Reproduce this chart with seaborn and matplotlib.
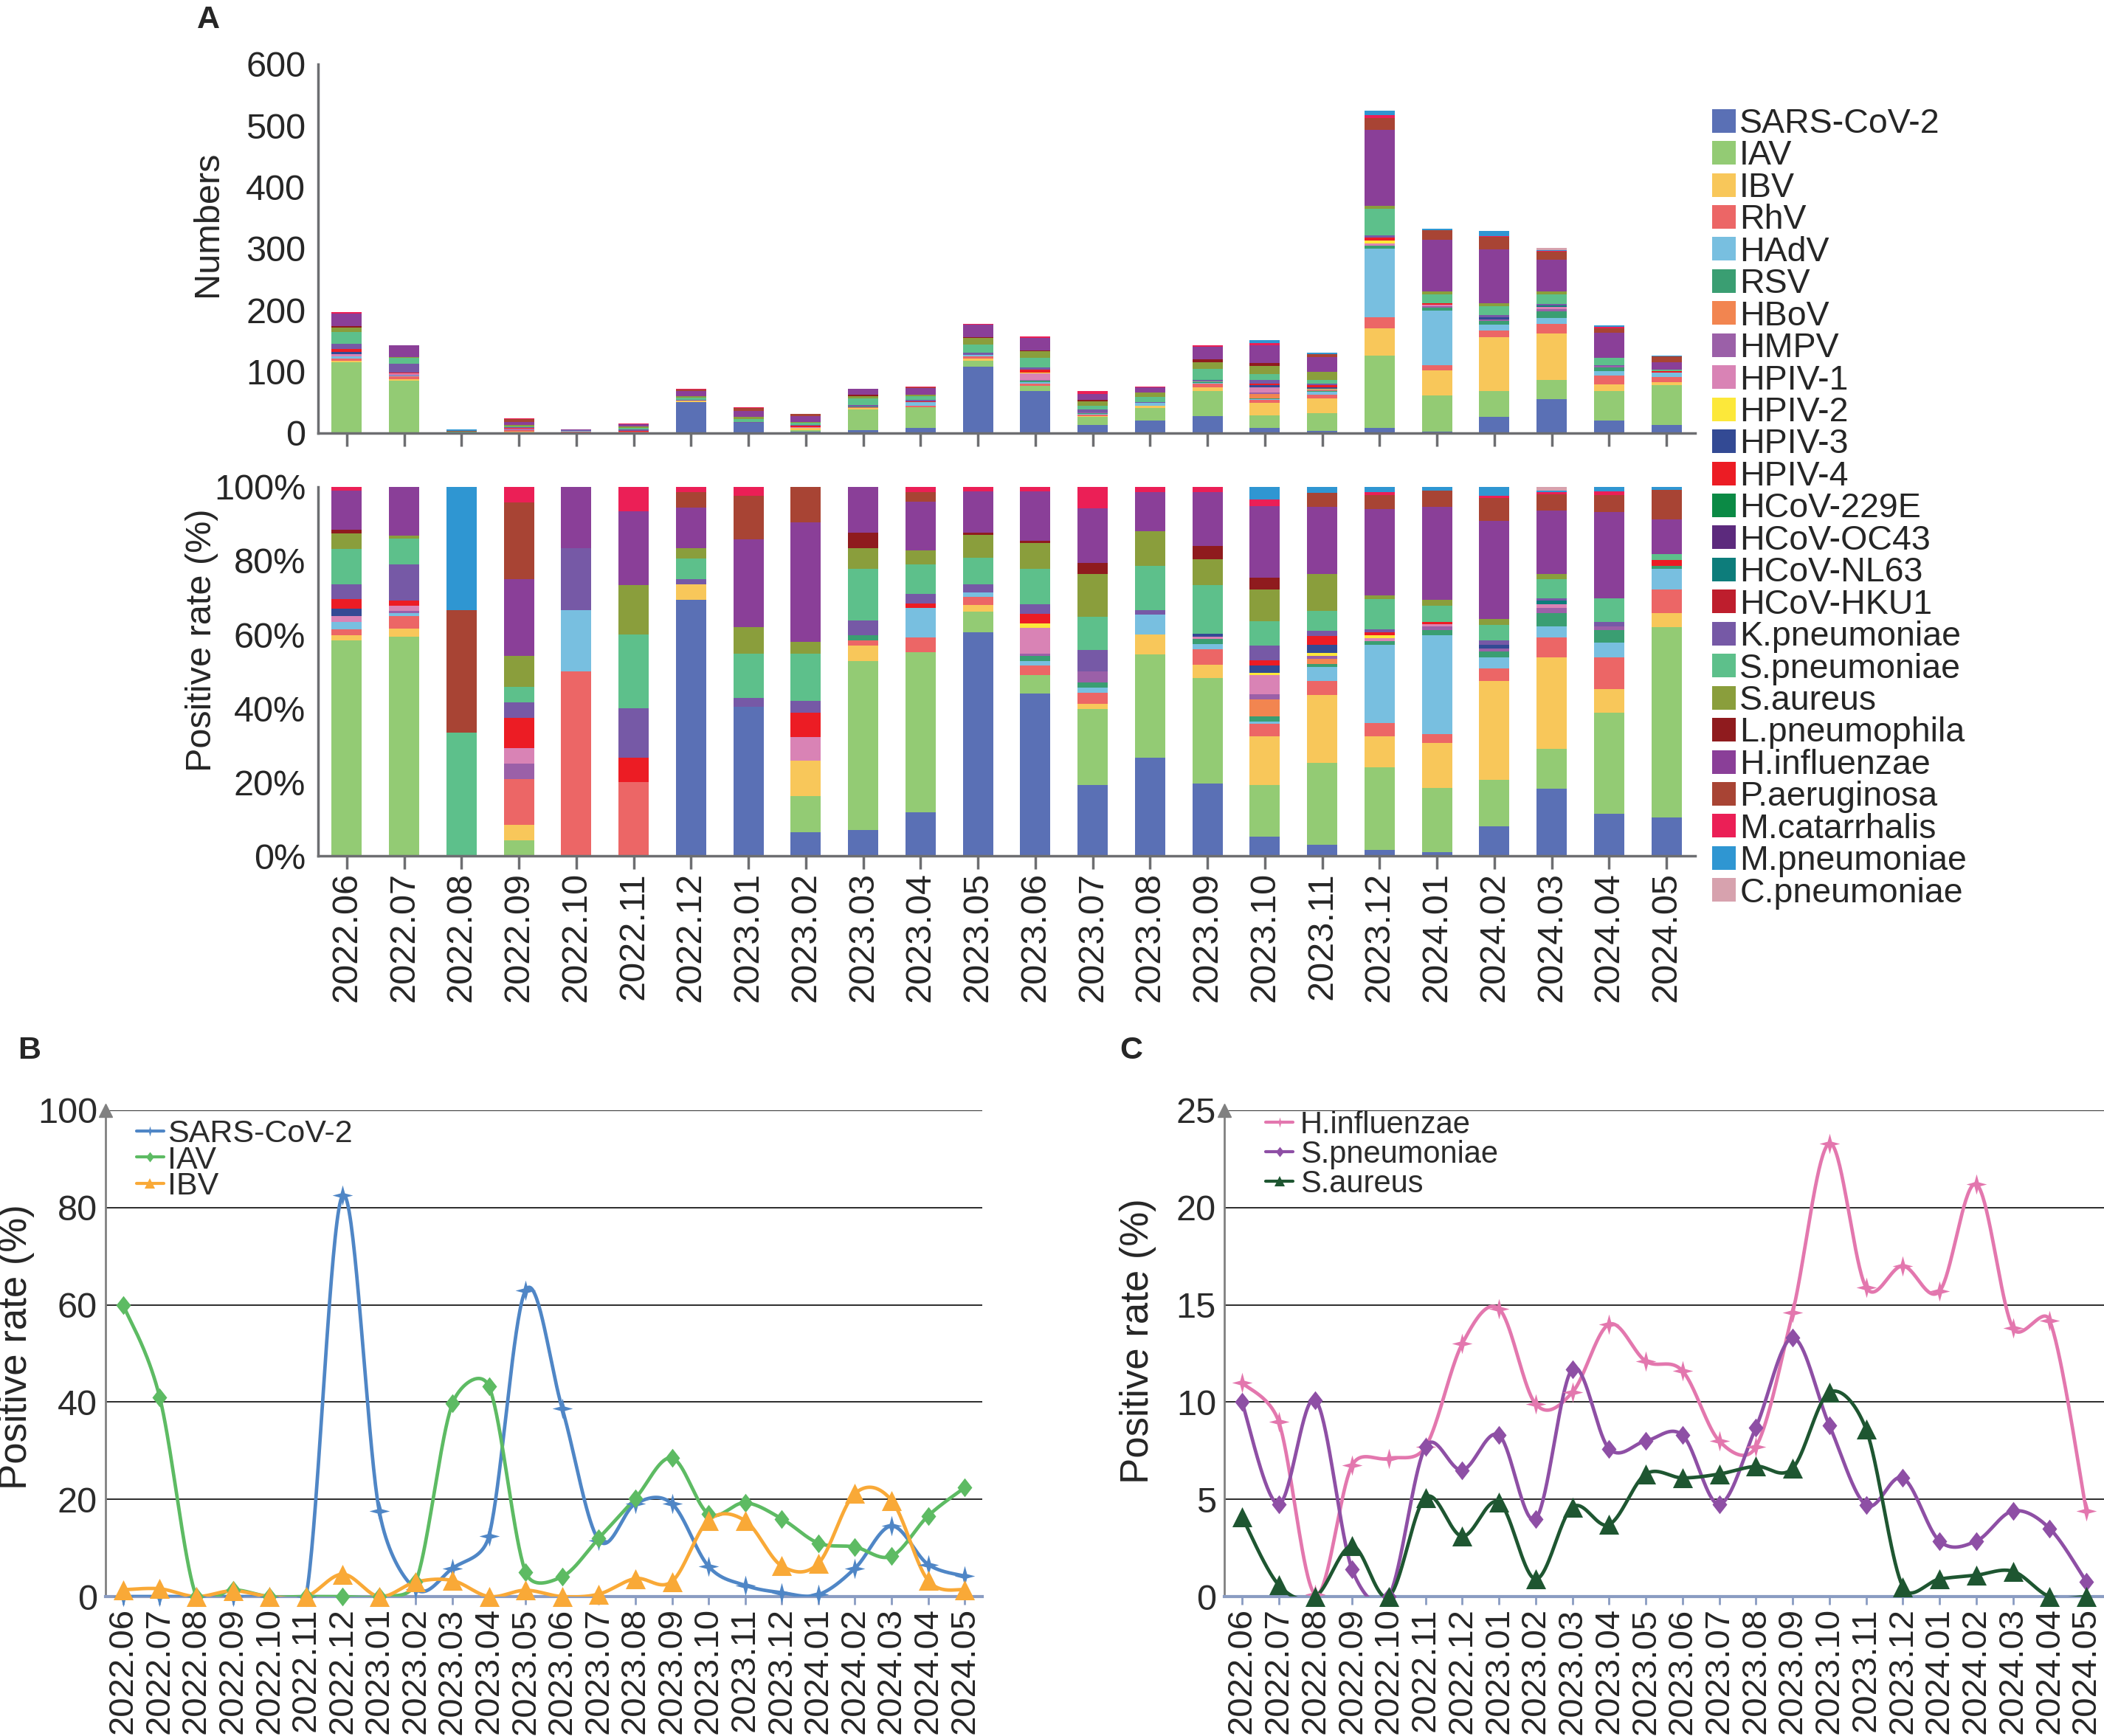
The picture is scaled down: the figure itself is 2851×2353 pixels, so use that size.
import numpy as np
import pandas as pd
import matplotlib
matplotlib.use('Agg')
import matplotlib.pyplot as plt
import seaborn as sns
from matplotlib.patches import Patch
from matplotlib.lines import Line2D
from matplotlib.path import Path

# ---------------- data ----------------
months = ['2022.06', '2022.07', '2022.08', '2022.09', '2022.10', '2022.11', '2022.12',
          '2023.01', '2023.02', '2023.03', '2023.04', '2023.05', '2023.06', '2023.07',
          '2023.08', '2023.09', '2023.10', '2023.11', '2023.12', '2024.01', '2024.02',
          '2024.03', '2024.04', '2024.05']

categories = ['SARS-CoV-2', 'IAV', 'IBV', 'RhV', 'HAdV', 'RSV', 'HBoV', 'HMPV', 'HPIV-1',
              'HPIV-2', 'HPIV-3', 'HPIV-4', 'HCoV-229E', 'HCoV-OC43', 'HCoV-NL63',
              'HCoV-HKU1', 'K.pneumoniae', 'S.pneumoniae', 'S.aureus', 'L.pneumophila',
              'H.influenzae', 'P.aeruginosa', 'M.catarrhalis', 'M.pneumoniae', 'C.pneumoniae']

colors = ['#5A70B5', '#93CB74', '#F8C75A', '#EC6666', '#78BFE0', '#3A9E72', '#F28550',
          '#9B60A8', '#D983B5', '#FCE83A', '#334A94', '#EC1C24', '#0B8A45', '#5C2A7D',
          '#0D7D7B', '#BE1E2D', '#7659A6', '#5DC08B', '#8A9E3C', '#8F1B1E', '#8A3F98',
          '#A84434', '#EB1F56', '#2F96D2', '#D7A2AE']

# monthly positive counts per pathogen (panel A)
sars_cov_2 = [0, 0, 0, 0, 0, 0, 50, 17, 2, 5, 9, 108, 69, 13, 20, 28, 8, 4, 8, 3, 26, 55, 20, 13]
iav = [115, 85, 0, 1, 0, 0, 0, 0, 3, 33, 33, 10, 8, 14, 21, 41, 21, 29, 118, 58, 42, 32, 48, 65]
ibv = [3, 3, 0, 1, 0, 0, 3, 0, 3, 3, 0, 3, 0, 1, 4, 5, 20, 24, 44, 41, 88, 75, 11, 5]
rhv = [3, 5, 0, 3, 3, 3, 0, 0, 0, 1, 3, 4, 4, 2, 0, 6, 5, 5, 19, 8, 11, 16, 15, 8]
hadv = [4, 1, 0, 0, 1, 0, 0, 0, 0, 0, 6, 2, 2, 1, 4, 2, 1, 5, 111, 89, 10, 9, 7, 7]
rsv = [0, 0, 0, 0, 0, 0, 0, 0, 0, 1, 0, 0, 2, 1, 0, 2, 2, 1, 5, 5, 5, 11, 6, 1]
hbov = [0, 0, 0, 0, 0, 0, 0, 0, 0, 0, 0, 0, 0, 0, 0, 0, 7, 2, 0, 0, 0, 0, 0, 0]
hmpv = [0, 1, 0, 1, 0, 0, 0, 0, 0, 0, 0, 0, 1, 2, 0, 0, 2, 1, 0, 3, 3, 4, 2, 0]
hpiv_1 = [3, 2, 0, 1, 0, 0, 0, 0, 2, 0, 0, 0, 11, 0, 0, 1, 8, 0, 4, 2, 0, 3, 0, 0]
hpiv_2 = [0, 0, 0, 0, 0, 0, 0, 0, 0, 0, 0, 0, 2, 0, 0, 0, 1, 1, 4, 0, 0, 0, 0, 0]
hpiv_3 = [4, 0, 0, 0, 0, 0, 0, 0, 0, 0, 0, 0, 0, 0, 0, 1, 3, 3, 0, 0, 3, 0, 0, 0]
hpiv_4 = [5, 2, 0, 2, 0, 1, 0, 0, 2, 0, 1, 0, 4, 0, 0, 0, 2, 3, 5, 2, 0, 0, 0, 2]
hcov_229e = [0, 0, 0, 0, 0, 0, 0, 0, 0, 0, 0, 0, 0, 0, 0, 0, 0, 0, 0, 0, 0, 0, 0, 0]
hcov_oc43 = [0, 0, 0, 0, 0, 0, 0, 0, 0, 0, 0, 0, 0, 0, 0, 0, 0, 0, 0, 0, 0, 0, 0, 0]
hcov_nl63 = [0, 0, 0, 0, 0, 0, 0, 0, 0, 0, 0, 0, 0, 0, 0, 0, 0, 0, 0, 0, 0, 3, 0, 0]
hcov_hku1 = [0, 0, 0, 0, 0, 0, 0, 0, 0, 0, 0, 0, 0, 0, 0, 0, 0, 0, 0, 0, 0, 0, 0, 0]
k_pneumoniae = [8, 14, 0, 1, 1, 2, 1, 1, 1, 3, 2, 4, 4, 4, 1, 0, 6, 2, 4, 0, 4, 2, 2, 0]
s_pneumoniae = [19, 10, 2, 1, 0, 3, 4, 5, 4, 10, 6, 13, 15, 6, 9, 19, 10, 7, 43, 15, 14, 16, 11, 2]
s_aureus = [8, 1, 0, 2, 0, 2, 2, 3, 1, 4, 3, 11, 11, 8, 7, 10, 13, 13, 5, 5, 5, 4, 0, 0]
l_pneumophila = [2, 0, 0, 0, 0, 0, 0, 0, 0, 3, 0, 1, 1, 2, 0, 5, 5, 0, 0, 0, 0, 0, 0, 0]
h_influenzae = [21, 19, 0, 5, 1, 3, 8, 10, 10, 9, 10, 20, 21, 10, 8, 21, 29, 24, 123, 84, 88, 52, 41, 12]
p_aeruginosa = [0, 0, 2, 5, 0, 0, 3, 5, 3, 0, 2, 0, 0, 0, 0, 0, 0, 5, 19, 15, 20, 13, 8, 10]
m_catarrhalis = [2, 0, 0, 1, 0, 1, 1, 1, 0, 0, 1, 2, 2, 4, 1, 2, 3, 0, 5, 0, 2, 2, 2, 0]
m_pneumoniae = [0, 0, 2, 0, 0, 0, 0, 0, 0, 0, 0, 0, 0, 0, 0, 0, 5, 2, 7, 3, 8, 1, 2, 1]
c_pneumoniae = [0, 0, 0, 0, 0, 0, 0, 0, 0, 0, 0, 0, 0, 0, 0, 0, 0, 0, 0, 0, 0, 3, 0, 0]

count_lists = [sars_cov_2, iav, ibv, rhv, hadv, rsv, hbov, hmpv, hpiv_1, hpiv_2, hpiv_3,
               hpiv_4, hcov_229e, hcov_oc43, hcov_nl63, hcov_hku1, k_pneumoniae,
               s_pneumoniae, s_aureus, l_pneumophila, h_influenzae, p_aeruginosa,
               m_catarrhalis, m_pneumoniae, c_pneumoniae]

# panel B positive rates (%)
b_sars = [0, 0, 0, 0, 0, 0, 82.5, 17.6, 1.5, 5.8, 12.5, 63, 38.7, 11.6, 19.1, 19.1, 6.2, 2.3,
          0.8, 0.4, 5.8, 14.5, 6.6, 4.2]
b_iav = [60, 41, 0, 1.4, 0, 0, 0, 0, 3, 39.7, 43.2, 5, 4.1, 12, 20.2, 28.5, 17, 19.3, 16,
         11, 10.2, 8.3, 16.6, 22.4]
b_ibv = [1.4, 1.6, 0, 1.2, 0, 0, 4.6, 0, 3, 3.3, 0, 1.3, 0, 0.5, 3.7, 3.1, 15.7, 15.6, 6.3,
         6.8, 21.2, 19.8, 3.3, 1.4]

# panel C positive rates (%)
c_hinf = [11.0, 9.0, 0.1, 6.75, 7.1, 7.7, 13.0, 14.8, 9.9, 10.5, 14.0, 12.1, 11.6, 8.0, 7.7,
          14.6, 23.3, 15.9, 17.0, 15.7, 21.2, 13.8, 14.2, 4.4]
c_spn = [10.0, 4.75, 10.1, 1.4, 0, 7.7, 6.5, 8.3, 4.0, 11.7, 7.6, 8.0, 8.3, 4.75, 8.7, 13.3,
         8.8, 4.7, 6.1, 2.85, 2.85, 4.4, 3.5, 0.76]
c_saur = [4.1, 0.6, 0, 2.6, 0, 5.1, 3.1, 4.85, 0.9, 4.6, 3.7, 6.3, 6.1, 6.3, 6.7, 6.6, 10.5,
          8.6, 0.5, 0.9, 1.1, 1.3, 0, 0]

# ---------------- style ----------------
sns.set_theme(style='white')
plt.rcParams['font.family'] = ['Liberation Sans', 'DejaVu Sans']

W, H = 2851, 2353
fig = plt.figure(figsize=(W / 100, H / 100), dpi=100)


def ax_px(left, top, right, bottom):
    return fig.add_axes([left / W, 1 - bottom / H, (right - left) / W, (bottom - top) / H])


GRAY = '#6d6e71'
TXT = '#2b2b2b'
x = np.arange(len(months))

# ---------------- panel A ----------------
axA1 = ax_px(431, 87, 2297, 587)
axA2 = ax_px(431, 660, 2297, 1160)

count_df = pd.DataFrame(dict(zip(categories, count_lists)), index=months)
share_df = count_df.div(count_df.sum(axis=1), axis=0)

for ax, df in ((axA1, count_df), (axA2, share_df)):
    base = np.zeros(len(months))
    for cat, col in zip(categories, colors):
        vals = df[cat].to_numpy(float)
        ax.bar(x, vals, bottom=base, width=0.53, color=col, linewidth=0)
        base += vals
    ax.set_xlim(-0.5, 23.5)
    for s in ['top', 'right']:
        ax.spines[s].set_visible(False)
    for s in ['left', 'bottom']:
        ax.spines[s].set_color(GRAY)
        ax.spines[s].set_linewidth(2.5)
    ax.tick_params(axis='x', bottom=True, direction='out', length=13, width=2.5,
                   color=GRAY, pad=3, labelsize=35)
    ax.tick_params(axis='y', left=False, labelsize=35, pad=6)
    ax.set_xticks(x)
    ax.grid(False)

axA1.set_ylim(0, 600)
axA1.set_yticks(range(0, 601, 100))
axA1.set_xticklabels([])
axA2.set_ylim(0, 1)
axA2.set_yticks([0, 0.2, 0.4, 0.6, 0.8, 1.0])
axA2.set_yticklabels(['0%', '20%', '40%', '60%', '80%', '100%'])
axA2.set_xticklabels(months, rotation=90)

fig.text(282 / W, 1 - 303 / H, 'Numbers', rotation=90, fontsize=35, ha='center', va='center')
fig.text(273 / W, 1 - 868 / H, 'Positive rate (%)', rotation=90, fontsize=35,
         ha='center', va='center')

leg_handles = [Patch(facecolor=c, edgecolor='none') for c in colors]
fig.legend(leg_handles, categories, loc='upper left', bbox_to_anchor=(2320 / W, 1 - 146 / H),
           frameon=False, fontsize=33.5, labelspacing=-0.012, handlelength=0.68,
           handleheight=0.68, handletextpad=0.12, borderpad=0, borderaxespad=0)

fig.text(282 / W, 1 - 27 / H, 'A', fontsize=31, fontweight='bold', ha='center', va='center')
fig.text(40 / W, 1 - 1424 / H, 'B', fontsize=31, fontweight='bold', ha='center', va='center')
fig.text(1533 / W, 1 - 1424 / H, 'C', fontsize=31, fontweight='bold', ha='center', va='center')


# ---------------- markers / smoothing helpers ----------------
def star_path(n=4, inner=0.3):
    ang = np.deg2rad(np.arange(2 * n) * 180 / n + 90)
    r = np.where(np.arange(2 * n) % 2 == 0, 1.0, inner)
    verts = np.column_stack([r * np.cos(ang), r * np.sin(ang)])
    verts = np.vstack([verts, verts[:1]])
    codes = [Path.MOVETO] + [Path.LINETO] * (2 * n - 1) + [Path.CLOSEPOLY]
    return Path(verts, codes)


DIAMOND = Path([(0, 1), (0.78, 0), (0, -1), (-0.78, 0), (0, 1)],
               [Path.MOVETO, Path.LINETO, Path.LINETO, Path.LINETO, Path.CLOSEPOLY])
STAR = star_path()


def smooth_curve(xs, ys, sx, sy, n=40):
    """Excel-style smoothed line: Bezier segments whose control arms are
    1/6 of the neighbour chord, capped at half the segment length (screen units)."""
    pts = np.column_stack([np.asarray(xs, float) * sx, np.asarray(ys, float) * sy])
    P = np.vstack([pts[0], pts, pts[-1]])
    out = []
    for i in range(len(pts) - 1):
        p0, p1, p2, p3 = P[i], P[i + 1], P[i + 2], P[i + 3]
        d12 = np.linalg.norm(p2 - p1)
        d02 = np.linalg.norm(p2 - p0)
        d13 = np.linalg.norm(p3 - p1)
        f1 = 1 / 6 if d02 / 6 < d12 / 2 else (d12 / 2) / max(d02, 1e-9)
        f2 = 1 / 6 if d13 / 6 < d12 / 2 else (d12 / 2) / max(d13, 1e-9)
        c1 = p1 + (p2 - p0) * f1
        c2 = p2 - (p3 - p1) * f2
        t = np.linspace(0, 1, n)[:, None]
        seg = (1 - t) ** 3 * p1 + 3 * (1 - t) ** 2 * t * c1 + 3 * (1 - t) * t ** 2 * c2 + t ** 3 * p2
        out.append(seg if i == 0 else seg[1:])
    curve = np.vstack(out)
    return curve[:, 0] / sx, curve[:, 1] / sy


def style_line_axes(ax, ymax, ystep):
    ax.set_xlim(-0.48, 23.48)
    ax.set_ylim(0, ymax)
    ticks = np.arange(0, ymax + 0.1, ystep)
    ax.set_yticks(ticks)
    ax.set_yticklabels([f'{int(v)}' for v in ticks], fontsize=35, color=TXT)
    ax.set_xticks(x)
    ax.set_xticklabels(months, rotation=90, fontsize=34)
    ax.set_axisbelow(True)
    ax.yaxis.grid(True, color='#1a1a1a', lw=1.3)
    ax.xaxis.grid(False)
    for s in ['top', 'right']:
        ax.spines[s].set_visible(False)
    ax.spines['left'].set_color('#808080')
    ax.spines['left'].set_linewidth(2)
    ax.spines['bottom'].set_color('#8a9cc2')
    ax.spines['bottom'].set_linewidth(3)
    ax.spines['bottom'].set_zorder(2.5)
    ax.tick_params(axis='x', bottom=True, direction='out', length=8, width=2,
                   color='#8a9cc2', pad=3)
    ax.tick_params(axis='y', left=False, pad=2)
    ax.plot([0], [1], transform=ax.transAxes, marker='^', ms=13, color='#808080',
            clip_on=False, zorder=5)


def draw_series(ax, vals, color, marker, size, ymax):
    sx = 1188 / 23.96          # pixels per month
    sy = 659 / ymax            # pixels per unit
    cx, cy = smooth_curve(x, vals, sx, sy)
    ax.plot(cx, cy, color=color, lw=3.4, zorder=3, solid_capstyle='round')
    sns.scatterplot(x=x, y=vals, marker=marker, s=size, color=color, linewidth=0,
                    ax=ax, clip_on=False, zorder=4, legend=False)


def line_handles(series):
    return [Line2D([], [], color=c, lw=3.0, marker=m, markersize=10, markeredgewidth=0)
            for _, _, c, m, _ in series]


# ---------------- panel B ----------------
axB = ax_px(143, 1505, 1331, 2164)
style_line_axes(axB, 100, 20)
b_series = [('SARS-CoV-2', b_sars, '#4F86C6', STAR, 400),
            ('IAV', b_iav, '#5DBB63', DIAMOND, 340),
            ('IBV', b_ibv, '#F9A937', '^', 380)]
for name, vals, col, mk, sz in b_series:
    draw_series(axB, vals, col, mk, sz, 100)
legB = axB.legend(line_handles(b_series), [n for n, *_ in b_series], loc='upper left',
                  bbox_to_anchor=(0.035, 0.982), frameon=False, fontsize=31,
                  labelspacing=-0.1, handlelength=0.86, handletextpad=0.12,
                  borderpad=0, borderaxespad=0)
for t in legB.get_texts():
    t.set_color(TXT)
fig.text(22 / W, 1 - 1826 / H, 'Positive rate (%)', rotation=90, fontsize=38,
         ha='center', va='center')

# ---------------- panel C ----------------
axC = ax_px(1659, 1505, 2851, 2164)
style_line_axes(axC, 25, 5)
c_series = [('H.influenzae', c_hinf, '#E377AE', STAR, 400),
            ('S.pneumoniae', c_spn, '#8E4FA5', DIAMOND, 340),
            ('S.aureus', c_saur, '#1E5631', '^', 380)]
for name, vals, col, mk, sz in c_series:
    draw_series(axC, vals, col, mk, sz, 25)
legC = axC.legend(line_handles(c_series), [n for n, *_ in c_series], loc='upper left',
                  bbox_to_anchor=(0.047, 1.0), frameon=False, fontsize=30,
                  labelspacing=0.0, handlelength=0.89, handletextpad=0.24,
                  borderpad=0, borderaxespad=0)
for t in legC.get_texts():
    t.set_color(TXT)
fig.text(1542 / W, 1 - 1818 / H, 'Positive rate (%)', rotation=90, fontsize=38,
         ha='center', va='center')

fig.savefig('out.png', dpi=100)
